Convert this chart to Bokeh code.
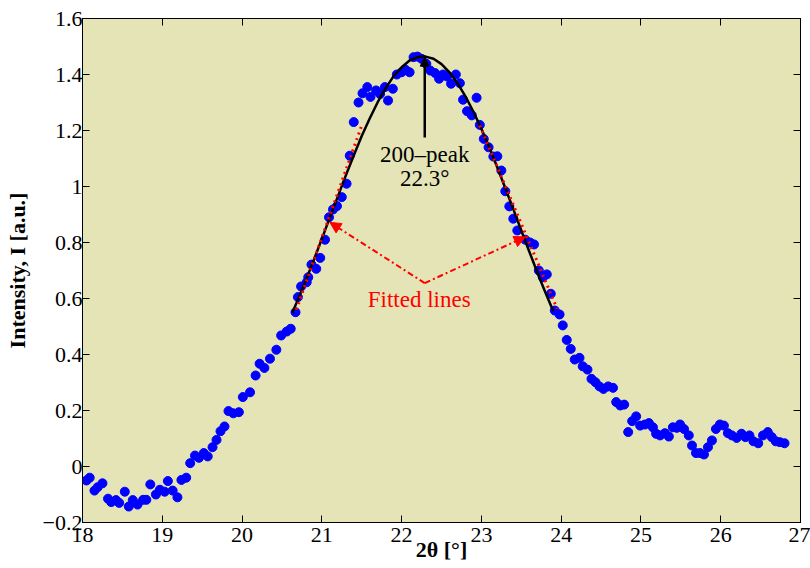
from bokeh.plotting import figure
from bokeh.models import LinearAxis, Label, Arrow, NormalHead, ColumnDataSource, FixedTicker
from bokeh.embed import file_html
from bokeh.resources import INLINE

# measured XRD intensity
theta2 = [18.05, 18.09, 18.15, 18.19, 18.25, 18.32, 18.36, 18.42, 18.46, 18.53, 18.58, 18.63, 18.69, 18.76, 18.80,
          18.85, 18.92, 18.97, 19.03, 19.07, 19.13, 19.19, 19.24, 19.30, 19.35, 19.41, 19.46, 19.52, 19.57, 19.63,
          19.68, 19.73, 19.78, 19.83, 19.89, 19.96, 20.01, 20.10, 20.17, 20.22, 20.28, 20.35, 20.43, 20.49, 20.56,
          20.61, 20.67, 20.70, 20.74, 20.81, 20.83, 20.87, 20.93, 20.98, 21.04, 21.09, 21.14, 21.19, 21.25, 21.31,
          21.35, 21.40, 21.46, 21.51, 21.57, 21.61, 21.68, 21.73, 21.79, 21.83, 21.89, 21.94, 22.00, 22.05, 22.10,
          22.15, 22.20, 22.25, 22.31, 22.36, 22.42, 22.47, 22.52, 22.57, 22.62, 22.68, 22.73, 22.77, 22.82, 22.88,
          22.94, 22.98, 23.03, 23.09, 23.15, 23.20, 23.25, 23.30, 23.35, 23.40, 23.45, 23.55, 23.61, 23.66, 23.72,
          23.77, 23.82, 23.87, 23.92, 23.98, 24.02, 24.07, 24.12, 24.17, 24.23, 24.27, 24.33, 24.38, 24.43, 24.48,
          24.53, 24.59, 24.65, 24.69, 24.74, 24.79, 24.84, 24.89, 24.94, 24.99, 25.05, 25.10, 25.15, 25.19, 25.24,
          25.30, 25.35, 25.40, 25.45, 25.49, 25.54, 25.60, 25.64, 25.69, 25.74, 25.79, 25.84, 25.89, 25.94, 25.99,
          26.04, 26.09, 26.14, 26.20, 26.26, 26.31, 26.36, 26.41, 26.47, 26.53, 26.59, 26.64, 26.69, 26.74, 26.80]
intensity = [-0.050, -0.040, -0.086, -0.074, -0.060, -0.115, -0.127, -0.120, -0.130, -0.090, -0.143, -0.120, -0.136, -0.119, -0.119,
             -0.064, -0.100, -0.083, -0.090, -0.052, -0.086, -0.110, -0.048, -0.040, 0.012, 0.039, 0.031, 0.048, 0.036, 0.069,
             0.095, 0.126, 0.143, 0.198, 0.190, 0.194, 0.248, 0.265, 0.325, 0.367, 0.352, 0.385, 0.417, 0.468, 0.482,
             0.492, 0.551, 0.605, 0.643, 0.658, 0.676, 0.721, 0.706, 0.745, 0.810, 0.890, 0.918, 0.930, 0.962, 1.010,
             1.110, 1.230, 1.300, 1.333, 1.355, 1.320, 1.343, 1.330, 1.355, 1.307, 1.349, 1.400, 1.408, 1.417, 1.408,
             1.462, 1.464, 1.456, 1.438, 1.414, 1.405, 1.385, 1.400, 1.393, 1.367, 1.400, 1.369, 1.310, 1.269, 1.254,
             1.317, 1.220, 1.170, 1.140, 1.107, 1.108, 1.057, 0.983, 0.929, 0.885, 0.843, 0.810, 0.800, 0.793, 0.700,
             0.676, 0.686, 0.617, 0.557, 0.543, 0.504, 0.452, 0.420, 0.382, 0.388, 0.358, 0.346, 0.313, 0.301, 0.286,
             0.277, 0.286, 0.281, 0.230, 0.218, 0.221, 0.123, 0.162, 0.179, 0.146, 0.150, 0.155, 0.140, 0.117, 0.111,
             0.119, 0.107, 0.140, 0.138, 0.150, 0.134, 0.111, 0.075, 0.048, 0.048, 0.043, 0.069, 0.093, 0.134, 0.150,
             0.146, 0.119, 0.111, 0.102, 0.117, 0.105, 0.111, 0.090, 0.083, 0.111, 0.123, 0.105, 0.090, 0.087, 0.083]

# fitted peak curve
fit_x = [20.63, 20.7, 20.8, 20.9, 21.0, 21.1, 21.2, 21.3, 21.4, 21.5, 21.6, 21.7, 21.8, 21.9, 22.0, 22.1, 22.2,
         22.27, 22.3, 22.4, 22.5, 22.6, 22.7, 22.8, 22.9, 23.0, 23.1, 23.2, 23.3, 23.4, 23.5, 23.6, 23.7, 23.8, 23.9]
fit_y = [0.549, 0.596, 0.665, 0.738, 0.813, 0.889, 0.964, 1.039, 1.111, 1.180, 1.243, 1.301, 1.351, 1.394, 1.426,
         1.450, 1.462, 1.465, 1.464, 1.456, 1.437, 1.408, 1.369, 1.322, 1.267, 1.206, 1.139, 1.068, 0.994, 0.919,
         0.843, 0.768, 0.694, 0.623, 0.555]

# fitted straight lines on the flanks
left_line_x = [20.68, 21.50]
left_line_y = [0.560, 1.218]
right_line_x = [22.98, 23.95]
right_line_y = [1.218, 0.563]

x_ticks = [18, 19, 20, 21, 22, 23, 24, 25, 26, 27]
y_ticks = [-0.2, 0, 0.2, 0.4, 0.6, 0.8, 1.0, 1.2, 1.4, 1.6]
y_tick_labels = {-0.2: "\u22120.2", 0: "0", 0.2: "0.2", 0.4: "0.4", 0.6: "0.6", 0.8: "0.8",
                 1.0: "1", 1.2: "1.2", 1.4: "1.4", 1.6: "1.6"}

FONT = "Liberation Serif"

p = figure(width=810, height=568, x_range=(18, 27), y_range=(-0.2, 1.6),
           output_backend="svg", toolbar_location=None, tools="")
p.min_border_left = 82
p.min_border_right = 10
p.min_border_top = 18
p.min_border_bottom = 46
p.background_fill_color = "#e5e4b6"
p.border_fill_color = "white"
p.outline_line_color = "black"
p.outline_line_width = 1
p.grid.visible = False

for ax in (p.xaxis[0], p.yaxis[0]):
    ax.major_tick_in = 7
    ax.major_tick_out = 0
    ax.minor_tick_in = 0
    ax.minor_tick_out = 0
    ax.major_label_text_font = FONT
    ax.major_label_text_font_size = "22px"
    ax.major_label_text_color = "black"
    ax.axis_label_text_font = FONT
    ax.axis_label_text_font_style = "bold"
    ax.axis_label_text_font_size = "22px"
    ax.axis_label_text_color = "black"
    ax.axis_line_color = "black"
    ax.major_tick_line_color = "black"

p.xaxis[0].ticker = FixedTicker(ticks=x_ticks)
p.yaxis[0].ticker = FixedTicker(ticks=y_ticks)
p.yaxis[0].major_label_overrides = y_tick_labels
p.xaxis[0].axis_label = "2\u03b8 [\u00b0]"
p.yaxis[0].axis_label = "Intensity, I [a.u.]"
p.xaxis[0].major_label_standoff = 5
p.xaxis[0].axis_label_standoff = -8
p.yaxis[0].major_label_standoff = 0
p.yaxis[0].axis_label_standoff = 10

# tick-only frame axes on top and right (no labels)
top_ax = LinearAxis(ticker=FixedTicker(ticks=x_ticks), major_tick_in=7, major_tick_out=0,
                    minor_tick_in=0, minor_tick_out=0, major_label_standoff=0,
                    major_label_text_font_size="10px",
                    major_label_overrides={t: "" for t in x_ticks}, axis_line_color="black")
right_ax = LinearAxis(ticker=FixedTicker(ticks=y_ticks), major_tick_in=7, major_tick_out=0,
                      minor_tick_in=0, minor_tick_out=0, major_label_standoff=0,
                      major_label_text_font_size="10px",
                      major_label_overrides={t: "" for t in y_ticks}, axis_line_color="black")
p.add_layout(top_ax, "above")
p.add_layout(right_ax, "right")

src = ColumnDataSource(dict(x=theta2, y=intensity))
p.scatter("x", "y", source=src, size=9, color="#0000ff", line_color="#0000ff")

p.line(fit_x, fit_y, line_color="black", line_width=2.5)

p.line(left_line_x, left_line_y, line_color="red", line_width=3, line_dash="2 4")
p.line(right_line_x, right_line_y, line_color="red", line_width=3, line_dash="2 4")

apex_x, apex_y = 22.29, 0.655
p.add_layout(Arrow(end=NormalHead(size=11, fill_color="red", line_color="red"),
                   x_start=apex_x, y_start=apex_y, x_end=21.10, y_end=0.872,
                   line_color="red", line_width=2, line_dash="6 3 2 3"))
p.add_layout(Arrow(end=NormalHead(size=11, fill_color="red", line_color="red"),
                   x_start=apex_x, y_start=apex_y, x_end=23.55, y_end=0.82,
                   line_color="red", line_width=2, line_dash="6 3 2 3"))

p.add_layout(Arrow(end=NormalHead(size=9, fill_color="black", line_color="black"),
                   x_start=22.29, y_start=1.175, x_end=22.29, y_end=1.462,
                   line_color="black", line_width=2.5))

p.add_layout(Label(x=22.29, y=1.115, text="200\u2013peak", text_font=FONT, text_font_size="23px",
                   text_color="black", text_align="center", text_baseline="middle"))
p.add_layout(Label(x=22.29, y=1.027, text="22.3\u00b0", text_font=FONT, text_font_size="23px",
                   text_color="black", text_align="center", text_baseline="middle"))
p.add_layout(Label(x=22.22, y=0.598, text="Fitted lines", text_font=FONT, text_font_size="23px",
                   text_color="red", text_align="center", text_baseline="middle"))

open("out.html", "w").write(file_html(p, INLINE))
